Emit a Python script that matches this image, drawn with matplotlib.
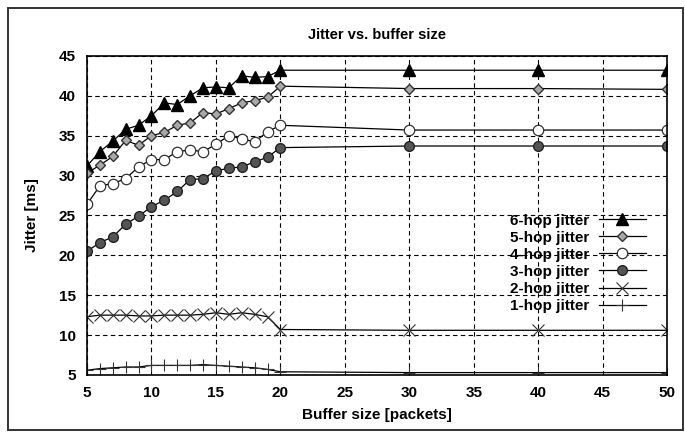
import matplotlib
matplotlib.use("Agg")
import matplotlib.pyplot as plt
from matplotlib.patches import Rectangle

# ----------------------------
# Data
# ----------------------------
buffer_sizes = [5, 6, 7, 8, 9, 10, 11, 12, 13, 14, 15, 16, 17, 18, 19, 20, 30, 40, 50]

hop6 = [31.2, 33.0, 34.3, 35.8, 36.3, 37.5, 39.1, 38.9, 40.0, 41.0, 41.1, 41.0,
        42.5, 42.3, 42.4, 43.2, 43.2, 43.2, 43.2]
hop5 = [30.3, 31.3, 32.4, 34.4, 33.8, 35.0, 35.4, 36.3, 36.6, 37.9, 37.7, 38.4,
        39.1, 39.4, 39.8, 41.2, 40.9, 40.9, 40.8]
hop4 = [26.4, 28.7, 29.0, 29.6, 31.1, 32.0, 32.0, 33.0, 33.2, 33.0, 33.9, 35.0,
        34.6, 34.2, 35.5, 36.3, 35.7, 35.7, 35.7]
hop3 = [20.5, 21.6, 22.3, 23.9, 24.9, 26.1, 26.9, 28.0, 29.5, 29.6, 30.6, 30.9,
        31.1, 31.7, 32.3, 33.5, 33.7, 33.7, 33.7]
hop2 = [12.3, 12.5, 12.5, 12.5, 12.4, 12.4, 12.5, 12.5, 12.5, 12.6, 12.8, 12.6,
        12.8, 12.6, 12.3, 10.7, 10.6, 10.6, 10.6]
hop1 = [5.6, 5.8, 5.9, 6.0, 6.0, 6.2, 6.2, 6.2, 6.2, 6.3, 6.2, 6.1,
        6.0, 5.9, 5.7, 5.4, 5.3, 5.3, 5.3]

labels = ["6-hop jitter", "5-hop jitter", "4-hop jitter",
          "3-hop jitter", "2-hop jitter", "1-hop jitter"]

FONT = ["Liberation Sans Narrow", "Liberation Sans", "DejaVu Sans"]
plt.rcParams["font.family"] = FONT
plt.rcParams["font.weight"] = "bold"

fig = plt.figure(figsize=(6.85, 4.33), dpi=100)
ax = fig.add_axes([0.127, 0.134, 0.847, 0.737])

ax.plot(buffer_sizes, hop6, color="black", lw=0.9, marker="^", ms=8,
        mfc="black", mec="black", label=labels[0])
ax.plot(buffer_sizes, hop5, color="black", lw=0.9, marker="D", ms=5.5,
        mfc="#a8a8a8", mec="#333333", label=labels[1])
ax.plot(buffer_sizes, hop4, color="black", lw=0.9, marker="o", ms=7.5,
        mfc="white", mec="#333333", mew=0.9, label=labels[2])
ax.plot(buffer_sizes, hop3, color="black", lw=0.9, marker="o", ms=7,
        mfc="#555555", mec="#222222", label=labels[3])
ax.plot(buffer_sizes, hop2, color="black", lw=0.9, marker="x", ms=8,
        mec="#333333", mew=0.8, label=labels[4])
ax.plot(buffer_sizes, hop1, color="black", lw=0.9, marker="+", ms=9,
        mec="#333333", mew=0.8, label=labels[5])

ax.set_xlim(5, 50)
ax.set_ylim(5, 45)
ax.set_xticks(range(5, 51, 5))
ax.set_yticks(range(5, 46, 5))
ax.grid(True, color="black", linestyle=(0, (4, 3)), linewidth=0.8)
ax.tick_params(length=0, pad=8, labelsize=11)
for lab in ax.get_xticklabels() + ax.get_yticklabels():
    lab.set_fontweight("bold")
for sp in ax.spines.values():
    sp.set_linewidth(1.2)

ax.set_title("Jitter vs. buffer size", fontsize=10.5, fontweight="bold", pad=12)
ax.set_xlabel("Buffer size [packets]", fontsize=11, fontweight="bold", labelpad=6)
ax.set_ylabel("Jitter [ms]", fontsize=11, fontweight="bold", labelpad=14)

# legend sits between the 25 and 15 gridlines, label left of the handle
leg = ax.legend(loc="center right", bbox_to_anchor=(0.974, 0.35), frameon=False,
                markerfirst=False, fontsize=11, handlelength=3.1,
                labelspacing=0.2, handletextpad=0.6, borderaxespad=0.0)
for t in leg.get_texts():
    t.set_fontweight("bold")

fig.patches.append(Rectangle((0.012, 0.006), 0.985, 0.975, transform=fig.transFigure,
                             fill=False, edgecolor="#333333", linewidth=1.4))

fig.savefig("out.png", dpi=100)
